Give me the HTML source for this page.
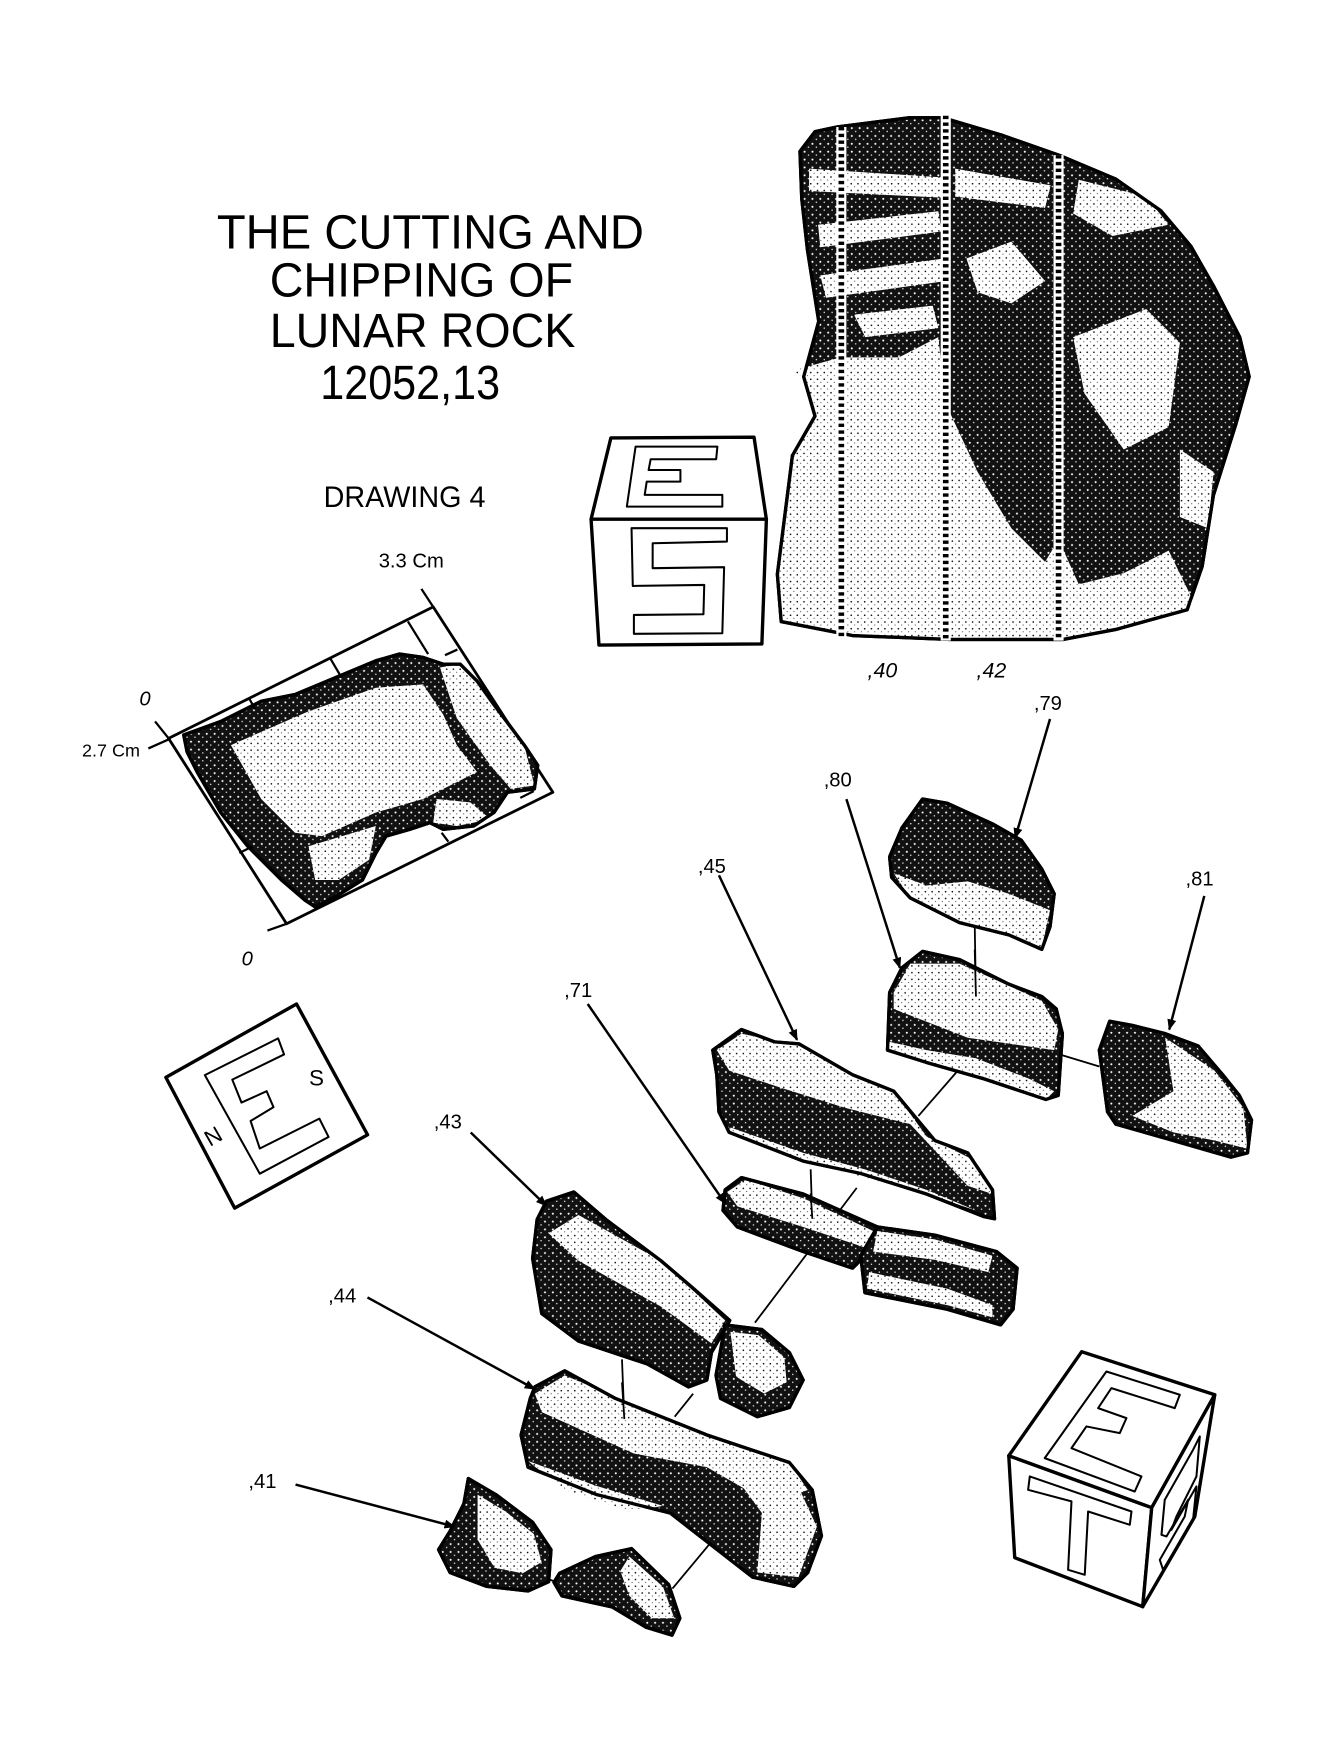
<!DOCTYPE html>
<html><head><meta charset="utf-8"><style>
html,body{margin:0;padding:0;background:#fff;}
svg{display:block;}
text{font-family:"Liberation Sans",sans-serif;fill:#000;}
.dk{fill:url(#dk);stroke:#000;stroke-width:3;stroke-linejoin:round;}
.lt{fill:url(#lt);stroke:none;}
.ol{fill:none;stroke:#000;stroke-width:3;stroke-linejoin:round;}
.ln{stroke:#000;stroke-width:1.6;fill:none;}
.ar{stroke:#000;stroke-width:2.2;fill:none;marker-end:url(#ah);}
.bx{fill:#fff;stroke:#000;stroke-width:3;stroke-linejoin:round;}
.lt2{fill:none;stroke:#000;stroke-width:1.8;stroke-linejoin:round;}
</style></head><body>
<svg width="1326" height="1761" viewBox="0 0 1180 1567" preserveAspectRatio="none" xmlns="http://www.w3.org/2000/svg">
<defs>
<pattern id="dk" width="7" height="7" patternUnits="userSpaceOnUse"><rect width="7" height="7" fill="#111"/><circle cx="2" cy="2" r="0.9" fill="#fff"/><circle cx="5.5" cy="5" r="0.6" fill="#fff"/></pattern>
<pattern id="lt" width="6" height="6" patternUnits="userSpaceOnUse"><rect width="6" height="6" fill="#fff"/><circle cx="1.5" cy="1.5" r="0.7" fill="#000"/><circle cx="4.5" cy="4.2" r="0.45" fill="#000"/></pattern>
<marker id="ah" markerWidth="10" markerHeight="8" refX="9" refY="4" orient="auto" markerUnits="userSpaceOnUse"><path d="M0,0 L10,4 L0,8 Z" fill="#000"/></marker>
</defs>

<!-- Title -->
<text x="193" y="221" font-size="43" textLength="380" lengthAdjust="spacingAndGlyphs">THE CUTTING AND</text>
<text x="240" y="264" font-size="43" textLength="270" lengthAdjust="spacingAndGlyphs">CHIPPING OF</text>
<text x="240" y="309" font-size="43" textLength="272" lengthAdjust="spacingAndGlyphs">LUNAR ROCK</text>
<text x="285" y="355" font-size="43" textLength="160" lengthAdjust="spacingAndGlyphs">12052,13</text>
<text x="288" y="451" font-size="26" textLength="144" lengthAdjust="spacingAndGlyphs">DRAWING 4</text>

<!-- Big rock -->
<polygon class="dk" points="711.9,134.7 725.3,117.1 745.3,112.9 808.9,104.8 839,104.8 892.5,120.6 942.6,138.2 992.8,159.3 1033,187.5 1059.7,219.1 1079.8,254.3 1103.2,300 1111.6,335.2 1099.8,377.3 1079.8,440.7 1069.8,503.9 1056.4,542.6 992.8,560.1 946,569 845.6,569 758.7,565.5 695.2,553.1 691.8,511 705.2,405.4 725.3,370.3 715.2,335.2 728.6,285.9 718.6,222.6 713.5,176.9"/>
<polygon class="lt" points="705,330 748,318 800,318 835,300 842,360 870,420 900,470 930,500 942,480 960,520 1000,510 1040,490 1062,535 1056,542 993,560 946,569 845,569 758,565 695,553 692,511 705,405 725,370 715,335"/>
<polygon class="lt" points="720,150 840,158 840,176 720,170"/>
<polygon class="lt" points="728,200 835,188 838,206 730,220"/>
<polygon class="lt" points="730,245 840,230 842,250 735,265"/>
<polygon class="lt" points="760,280 830,272 835,292 770,300"/>
<polygon class="lt" points="850,150 935,165 930,185 850,175"/>
<polygon class="lt" points="860,230 900,215 930,250 900,270 870,260"/>
<polygon class="lt" points="955,300 1020,275 1050,305 1040,380 1000,400 965,350"/>
<polygon class="lt" points="960,160 1020,175 1040,200 990,210 955,190"/>
<polygon class="lt" points="1050,400 1080,420 1075,470 1050,460"/>
<polygon class="ol" points="711.9,134.7 725.3,117.1 745.3,112.9 808.9,104.8 839,104.8 892.5,120.6 942.6,138.2 992.8,159.3 1033,187.5 1059.7,219.1 1079.8,254.3 1103.2,300 1111.6,335.2 1099.8,377.3 1079.8,440.7 1069.8,503.9 1056.4,542.6 992.8,560.1 946,569 845.6,569 758.7,565.5 695.2,553.1 691.8,511 705.2,405.4 725.3,370.3 715.2,335.2 728.6,285.9 718.6,222.6 713.5,176.9"/>
<g>
<line x1="748.7" y1="113" x2="748.7" y2="567" stroke="#fff" stroke-width="9"/>
<line x1="748.7" y1="113" x2="748.7" y2="567" stroke="#000" stroke-width="5" stroke-dasharray="3,3"/>
<line x1="841.6" y1="103" x2="841.6" y2="570" stroke="#fff" stroke-width="9"/>
<line x1="841.6" y1="103" x2="841.6" y2="570" stroke="#000" stroke-width="5" stroke-dasharray="3,3"/>
<line x1="942" y1="138" x2="942" y2="570" stroke="#fff" stroke-width="9"/>
<line x1="942" y1="138" x2="942" y2="570" stroke="#000" stroke-width="5" stroke-dasharray="3,3"/>
</g>
<text x="772" y="603" font-size="19" font-style="italic">,40</text>
<text x="869" y="603" font-size="19" font-style="italic">,42</text>

<!-- ES cube -->
<polygon class="bx" points="543.6,389.7 671,389 682,462 526,462"/>
<polygon class="bx" points="526,462 682,462 678,573 533,574"/>
<polygon class="lt2" points="565.6,397.4 638.4,397.4 637.3,408.7 579,408.7 577.2,418.2 605.5,418.2 605.5,428.6 575.5,428.6 573.7,440.4 642.8,440.4 642.8,450.8 557.8,450.8"/>
<polygon class="lt2" points="562,470 646.9,470 646.9,481.9 580.8,483.4 580.8,505.6 644.4,504.7 642.8,563.5 564.1,564 564.1,547.2 626,546.6 626.7,520.5 563.1,521.4"/>

<!-- small rock in frame -->
<polygon class="bx" style="stroke-width:2.5" points="150,657 385.5,540 492,705 255,822"/>
<polygon class="dk" points="163.5,654 196.5,642 232.5,624 262.5,618 298.5,603 334.5,588 355.5,582 376.5,585 394.5,591 409.5,591 424.5,606 439.5,627 466.5,663 478.5,681 475.5,702 451.5,705 439.5,723 421.5,735 394.5,738 382.5,732 364.5,738 343.5,744 334.5,759 322.5,783 298.5,798 280.5,807 271.5,801 250.5,783 220.5,753 196.5,723 175.5,687 166.5,669"/>
<polygon class="lt" points="205.5,663 274.5,633 334.5,612 376.5,609 394.5,636 406.5,663 424.5,687 376.5,711 334.5,723 286.5,744 262.5,741 232.5,711"/>
<polygon class="lt" points="391.5,594 409.5,591 424.5,606 466.5,663 475.5,699 454.5,702 436.5,681 406.5,639"/>
<polygon class="lt" points="388.5,711 418.5,714 436.5,729 406.5,735 385.5,732"/>
<polygon class="lt" points="274.5,753 334.5,735 328.5,765 301.5,783 280.5,783"/>
<polygon class="ol" points="163.5,654 196.5,642 232.5,624 262.5,618 298.5,603 334.5,588 355.5,582 376.5,585 394.5,591 409.5,591 424.5,606 439.5,627 466.5,663 478.5,681 475.5,702 451.5,705 439.5,723 421.5,735 394.5,738 382.5,732 364.5,738 343.5,744 334.5,759 322.5,783 298.5,798 280.5,807 271.5,801 250.5,783 220.5,753 196.5,723 175.5,687 166.5,669"/>
<g class="ln" style="stroke-width:2">
<line x1="222" y1="622" x2="227" y2="631"/><line x1="294" y1="586" x2="304" y2="603"/><line x1="363" y1="553" x2="381" y2="582"/>
<line x1="396" y1="583" x2="407" y2="578"/><line x1="463" y1="710" x2="475" y2="704"/><line x1="393" y1="741" x2="399" y2="749"/>
<line x1="213" y1="759" x2="225" y2="753"/>
<line x1="375" y1="524" x2="385.5" y2="540"/><line x1="138" y1="642" x2="150" y2="657"/><line x1="132" y1="666" x2="150" y2="658"/><line x1="238" y1="828" x2="255" y2="822"/>
</g>
<text x="337" y="505" font-size="18">3.3 Cm</text>
<text x="124" y="628" font-size="18" font-style="italic">0</text>
<text x="73" y="673" font-size="16">2.7 Cm</text>
<text x="215" y="859" font-size="18" font-style="italic">0</text>

<!-- NES square -->
<polygon class="bx" points="147.6,958.7 263.9,893.4 327.1,1009.8 208.8,1075"/>
<polygon class="lt2" points="182.3,956.7 247.5,924 252.8,938.3 206.7,960.7 214.9,981.1 237.3,971 243.4,985.2 223,997.5 231.2,1022 284.2,995.4 292.4,1011.7 231.2,1044.4"/>
<text x="275" y="966" font-size="20">S</text>
<text x="183" y="1018" font-size="20" transform="rotate(-30 190 1012)">N</text>

<!-- connector lines -->
<g class="ln">
<line x1="867.4" y1="822.8" x2="868.5" y2="886.8"/>
<line x1="936.2" y1="936.2" x2="978.3" y2="949"/>
<line x1="866.7" y1="936.2" x2="817.3" y2="993"/>
<line x1="721.4" y1="1040.5" x2="722.9" y2="1084.5"/>
<line x1="762.4" y1="1057" x2="671.8" y2="1177"/>
<line x1="600.4" y1="1260.6" x2="616.8" y2="1240.2"/>
<line x1="553.5" y1="1209.6" x2="555.6" y2="1262.7"/>
<line x1="598.4" y1="1413.6" x2="649.4" y2="1352.4"/>
<line x1="488" y1="1405" x2="500" y2="1410"/>
</g>

<!-- Rock 79 -->
<polygon class="dk" points="821,711 843,714.8 883.2,733.1 908.8,747.7 927.1,773.4 938.1,795.3 934.4,824.6 927.1,844.7 897.8,831.9 853.9,821 810,799 793.5,780.7 791.7,762.4 802.6,736.8"/>
<polygon class="lt" points="795.3,777 824.6,788 861.2,784.3 897.8,795.3 934.4,810 927.1,842.9 897.8,831.9 853.9,821 810,799"/>
<polygon class="ol" points="821,711 843,714.8 883.2,733.1 908.8,747.7 927.1,773.4 938.1,795.3 934.4,824.6 927.1,844.7 897.8,831.9 853.9,821 810,799 793.5,780.7 791.7,762.4 802.6,736.8"/>
<!-- Rock 80 -->
<polygon class="dk" points="802.6,861.2 821,846.6 853.9,853.9 897.8,875.8 927.1,886.8 939.9,897.8 945.4,919.8 941.7,974.7 930.7,978.3 875.8,960 824.6,945.4 789.8,934.4 791.7,883.2"/>
<polygon class="lt" points="795.3,883.2 810,857.5 853.9,857.5 927.1,890.5 941.7,916.1 938.1,934.4 861.2,923.4 795.3,897.8"/>
<polygon class="lt" points="791.7,927.1 824.6,934.4 868.5,941.7 916.1,960 938.1,971 930.7,978.3 875.8,960 824.6,945.4 789.8,934.4"/>
<polygon class="ol" points="802.6,861.2 821,846.6 853.9,853.9 897.8,875.8 927.1,886.8 939.9,897.8 945.4,919.8 941.7,974.7 930.7,978.3 875.8,960 824.6,945.4 789.8,934.4 791.7,883.2"/>
<line class="ln" x1="867.4" y1="845" x2="868.5" y2="886.8"/>
<!-- Rock 81 -->
<polygon class="dk" points="987.5,908.8 1007.6,912.4 1036.9,919.8 1066.2,930.7 1088.1,956.4 1102.8,974.7 1113.7,996.6 1110.1,1025.9 1095.4,1029.6 1044.2,1014.9 993,1000.3 985.6,989.3 978.3,934.4"/>
<polygon class="lt" points="1036.9,923.4 1080.8,952.7 1106.4,985.6 1110.1,1022.2 1080.8,1014.9 1044.2,1007.6 1007.6,993 1044.2,971"/>
<polygon class="ol" points="987.5,908.8 1007.6,912.4 1036.9,919.8 1066.2,930.7 1088.1,956.4 1102.8,974.7 1113.7,996.6 1110.1,1025.9 1095.4,1029.6 1044.2,1014.9 993,1000.3 985.6,989.3 978.3,934.4"/>
<!-- Rock 45 -->
<polygon class="dk" points="634.3,934.4 659.9,916.1 689.2,927.1 711.1,928.9 758.7,956.4 795.3,971 813.6,993 831.9,1014.9 861.2,1025.9 883.2,1058.8 885,1084.5 875.8,1082.6 824.6,1062.5 766,1044.2 714.8,1033.2 648.9,1007.6 639.8,989.3 637.9,956.4"/>
<polygon class="lt" points="637.9,934.4 659.9,919.8 711.1,930.7 758.7,956.4 795.3,971 824.6,1011.3 868.5,1033.2 883.2,1062.5 861.2,1055.2 810,1000.3 751.4,985.6 692.8,967.3 648.9,952.7"/>
<polygon class="lt" points="641.6,1000.3 714.8,1025.9 769.7,1040.5 824.6,1058.8 868.5,1077.1 824.6,1062.5 714.8,1033.2 648.9,1007.6"/>
<polygon class="ol" points="634.3,934.4 659.9,916.1 689.2,927.1 711.1,928.9 758.7,956.4 795.3,971 813.6,993 831.9,1014.9 861.2,1025.9 883.2,1058.8 885,1084.5 875.8,1082.6 824.6,1062.5 766,1044.2 714.8,1033.2 648.9,1007.6 639.8,989.3 637.9,956.4"/>
<!-- Rock 71 -->
<polygon class="dk" points="645.3,1058.8 659.9,1047.9 714.8,1062.5 780.7,1091.8 766,1121.1 758.7,1128.4 714.8,1113.7 656.2,1091.8 643.4,1077.1"/>
<polygon class="lt" points="647.1,1060.7 663.6,1049.7 714.8,1066.2 777,1095.4 769.7,1110.1 714.8,1091.8 656.2,1073.5"/>
<polygon class="ol" points="645.3,1058.8 659.9,1047.9 714.8,1062.5 780.7,1091.8 766,1121.1 758.7,1128.4 714.8,1113.7 656.2,1091.8 643.4,1077.1"/>
<polygon class="dk" points="780.7,1091.8 831.9,1099.1 886.8,1113.7 905.1,1128.4 901.5,1165 890.5,1178.9 842.9,1165 769.7,1150.3 766,1117.4"/>
<polygon class="lt" points="780.7,1095.4 831.9,1102.8 883.2,1117.4 879.5,1132 831.9,1121.1 777,1113.7"/>
<polygon class="lt" points="773.4,1132 842.9,1146.7 883.2,1161.3 883.2,1172.3 842.9,1161.3 771.5,1146.7"/>
<polygon class="ol" points="780.7,1091.8 831.9,1099.1 886.8,1113.7 905.1,1128.4 901.5,1165 890.5,1178.9 842.9,1165 769.7,1150.3 766,1117.4"/>
<line class="ln" x1="721.4" y1="1062" x2="722.9" y2="1084.5"/>
<!-- Rock 43 -->
<polygon class="dk" points="486.2,1068.9 510.7,1060.7 539.2,1085.2 588.2,1121.9 616.8,1146.4 649.4,1175 633.1,1203.5 629,1228 612.7,1234.1 576,1213.7 514.8,1193.3 482.1,1168.8 474,1119.8 478,1085.2"/>
<polygon class="lt" points="488.2,1097.4 514.8,1081.1 588.2,1121.9 645.3,1175 633.1,1195.4 588.2,1162.7 514.8,1121.9"/>
<polygon class="ol" points="486.2,1068.9 510.7,1060.7 539.2,1085.2 588.2,1121.9 616.8,1146.4 649.4,1175 633.1,1203.5 629,1228 612.7,1234.1 576,1213.7 514.8,1193.3 482.1,1168.8 474,1119.8 478,1085.2"/>
<polygon class="dk" points="645.3,1179 678,1183.1 702.4,1203.5 714.7,1228 702.4,1252.5 673.9,1260.6 641.2,1244.3 637.2,1223.9"/>
<polygon class="lt" points="650,1185 675,1188 698,1208 700,1230 680,1240 655,1225"/>
<polygon class="ol" points="645.3,1179 678,1183.1 702.4,1203.5 714.7,1228 702.4,1252.5 673.9,1260.6 641.2,1244.3 637.2,1223.9"/>
<!-- Rock 44 -->
<polygon class="dk" points="476,1234.1 502.5,1219.8 547.4,1244.3 629,1276.9 702.4,1301.4 722.8,1325.9 731,1366.7 718.8,1399.3 706.5,1411.6 669.8,1403.4 596.4,1346.3 531.1,1330 469.9,1305.5 463.7,1276.9 471.9,1244.3"/>
<polygon class="lt" points="476,1240.2 502.5,1223.9 629,1276.9 702.4,1301.4 718.8,1325.9 686.1,1338.1 629,1305.5 563.7,1293.3 482.1,1256.6"/>
<polygon class="lt" points="633.1,1285.1 702.4,1305.5 726.9,1358.5 710.6,1403.4 673.9,1399.3 678,1346.3"/>
<polygon class="lt" points="470,1300 530,1322 590,1340 560,1345 500,1325"/>
<polygon class="ol" points="476,1234.1 502.5,1219.8 547.4,1244.3 629,1276.9 702.4,1301.4 722.8,1325.9 731,1366.7 718.8,1399.3 706.5,1411.6 669.8,1403.4 596.4,1346.3 531.1,1330 469.9,1305.5 463.7,1276.9 471.9,1244.3"/>
<line class="ln" x1="553.5" y1="1230" x2="555.6" y2="1262.7"/>
<!-- Rock 41 -->
<polygon class="dk" points="416.8,1315.7 441.3,1330 473.9,1354.5 490.3,1379 488.2,1407.5 469.9,1415.7 433.2,1411.6 400.5,1399.3 390.3,1378.9 400.5,1362.6 412.8,1338.1"/>
<polygon class="lt" points="425,1330 450,1345 475,1365 482,1390 465,1400 440,1395 425,1370"/>
<polygon class="ol" points="416.8,1315.7 441.3,1330 473.9,1354.5 490.3,1379 488.2,1407.5 469.9,1415.7 433.2,1411.6 400.5,1399.3 390.3,1378.9 400.5,1362.6 412.8,1338.1"/>
<!-- Triangle rock -->
<polygon class="dk" points="498,1400 530,1385 562,1378 595,1410 605,1440 598,1455 575,1448 545,1430 500,1420 493,1408"/>
<polygon class="lt" points="560,1385 590,1412 600,1440 580,1440 560,1420 552,1398"/>
<polygon class="ol" points="498,1400 530,1385 562,1378 595,1410 605,1440 598,1455 575,1448 545,1430 500,1420 493,1408"/>

<!-- arrows -->
<line class="ar" x1="934.4" y1="639.8" x2="903.3" y2="745.9"/>
<line class="ar" x1="753.2" y1="711.1" x2="800.8" y2="861.2"/>
<line class="ar" x1="1071.7" y1="797.2" x2="1040.5" y2="916.1"/>
<line class="ar" x1="639.8" y1="778.9" x2="709.3" y2="925.3"/>
<line class="ar" x1="523" y1="893.4" x2="645.3" y2="1070.9"/>
<line class="ar" x1="418.9" y1="1007.7" x2="486.2" y2="1073"/>
<line class="ar" x1="327" y1="1154.5" x2="476" y2="1236.1"/>
<line class="ar" x1="263" y1="1321" x2="404.6" y2="1358.5"/>

<!-- labels -->
<text x="920" y="632" font-size="18">,79</text>
<text x="733" y="700" font-size="18">,80</text>
<text x="1055" y="788" font-size="18">,81</text>
<text x="621" y="777" font-size="18">,45</text>
<text x="502" y="887" font-size="18">,71</text>
<text x="386" y="1004" font-size="18">,43</text>
<text x="292" y="1159" font-size="18">,44</text>
<text x="221" y="1324" font-size="18">,41</text>

<!-- ET cube -->
<polygon class="bx" points="897.7,1295.4 962.6,1202.8 1081,1241.1 1024.9,1341.6"/>
<polygon class="bx" points="897.7,1295.4 1024.9,1341.6 1016.9,1429.7 903,1386.1"/>
<polygon class="bx" points="1024.9,1341.6 1081,1241.1 1063.2,1349.6 1016.9,1429.7"/>
<polygon class="lt2" points="984.6,1220.4 1049.9,1241.1 1045.4,1253 989,1235.2 977.2,1253 1002.4,1261.9 996.5,1275.2 966.8,1269.3 953.5,1288.6 1015.8,1313.8 1009.8,1327.2 929.7,1297.5"/>
<polygon class="lt2" points="916.4,1313.8 1006.9,1345 1005.4,1356.8 968.3,1345 965.3,1401.3 950.5,1396.9 953.5,1336 914.9,1325.7"/>
<polygon class="lt2" points="1067.7,1278.2 1064.7,1313.8 1046.9,1349.4 1042.4,1361.3 1064.7,1322.7 1061.7,1352.4 1035,1396.9 1032.1,1388 1054.3,1349.4 1057.3,1334.6 1038,1367.2 1033.6,1365.7 1036.5,1334.6 1061.7,1290.1"/>
</svg>
</body></html>
